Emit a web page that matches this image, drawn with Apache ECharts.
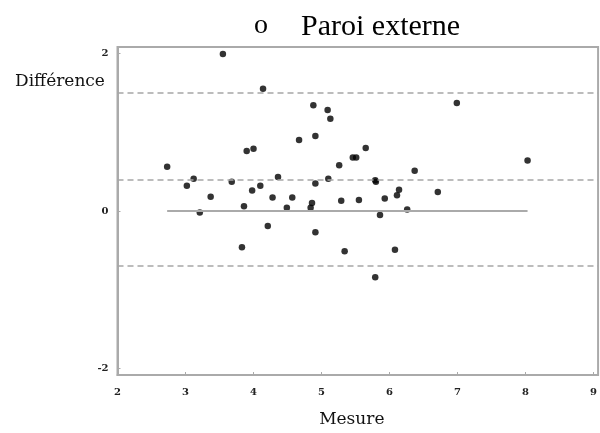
<!DOCTYPE html>
<html>
<head>
<meta charset="utf-8">
<script src="https://cdn.jsdelivr.net/npm/echarts@6/dist/echarts.min.js"></script>
<style>
  html, body { margin: 0; padding: 0; background: #fff; }
  #chart { width: 600px; height: 433px; }
</style>
</head>
<body>
<div id="chart"></div>
<script>
var mesure = [3.55, 4.14, 4.88, 5.09, 5.13, 4.91, 4.67, 3.90, 4.00, 2.73,
  5.26, 3.02, 3.12, 3.68, 4.36, 4.10, 3.98, 4.91, 5.10, 3.37,
  4.28, 4.57, 5.29, 3.86, 4.49, 4.86, 4.84, 3.21, 4.21, 4.91,
  3.83, 5.34, 5.65, 5.46, 5.51, 6.37, 6.99, 8.03, 5.80, 5.79,
  6.71, 6.14, 6.11, 5.55, 5.93, 6.26, 5.86, 6.08, 5.79];
var difference = [1.99, 1.55, 1.34, 1.28, 1.17, 0.95, 0.90, 0.76, 0.79, 0.56,
  0.58, 0.32, 0.41, 0.37, 0.43, 0.32, 0.26, 0.35, 0.41, 0.18,
  0.17, 0.17, 0.13, 0.06, 0.04, 0.10, 0.04, -0.02, -0.19, -0.27,
  -0.46, -0.51, 0.80, 0.68, 0.68, 0.51, 1.37, 0.64, 0.37, 0.39,
  0.24, 0.27, 0.20, 0.14, 0.16, 0.02, -0.05, -0.49, -0.84];
// limite haute, moyenne, limite basse
var limites = [1.5, 0.4, -0.7];
var xTicks = [2, 3, 4, 5, 6, 7, 8, 9];
var yTicks = [-2, 0, 2];

var points = [];
for (var i = 0; i < mesure.length; i++) {
  points.push([mesure[i], difference[i]]);
}
var xMin = Math.min.apply(null, mesure);
var xMax = Math.max.apply(null, mesure);

var dashed = { color: '#a6a6a6', type: [6, 4], width: 1.5 };
var lines = limites.map(function (v) {
  return { yAxis: v, lineStyle: dashed };
});
lines.push([
  { coord: [xMin, 0], lineStyle: { color: '#aaa', type: 'solid', width: 2 } },
  { coord: [xMax, 0] }
]);

var labelFont = { fontFamily: 'DejaVu Serif', fontWeight: 'bold', fontSize: 10, color: '#222' };

var myChart = echarts.init(document.getElementById('chart'));
var option = {
  animation: false,
  backgroundColor: '#fff',
  title: [
    { text: 'o', left: 249, top: 7, textStyle: { fontFamily: 'Liberation Serif', fontWeight: 'normal', fontSize: 28, color: '#000' } },
    { text: 'Paroi externe', left: 296, top: 7, textStyle: { fontFamily: 'Liberation Serif', fontWeight: 'normal', fontSize: 30, color: '#000' } },
    { text: 'Différence', left: 10, top: 68, textStyle: { fontFamily: 'DejaVu Serif', fontWeight: 'normal', fontSize: 17, color: '#111' } }
  ],
  grid: {
    left: 117.5, top: 47, right: -3, bottom: 57,
    show: true, borderColor: '#aaa', borderWidth: 2
  },
  xAxis: {
    type: 'value',
    min: 2, max: 9.067,
    name: 'Mesure',
    nameLocation: 'middle',
    nameGap: 36,
    nameTextStyle: { fontFamily: 'DejaVu Serif', fontSize: 17, color: '#111', padding: [0, 12, 0, 0] },
    axisLine: { onZero: false, lineStyle: { color: '#aaa', width: 2 } },
    axisTick: { show: true, inside: true, length: 3, customValues: xTicks, lineStyle: { color: '#aaa' } },
    axisLabel: Object.assign({ customValues: xTicks, margin: 12 }, labelFont),
    splitLine: { show: false }
  },
  yAxis: {
    type: 'value',
    min: -2.08, max: 2.08,
    axisLine: { show: true, onZero: false, lineStyle: { color: '#aaa', width: 2 } },
    axisTick: { show: true, inside: true, length: 3, customValues: yTicks, lineStyle: { color: '#aaa' } },
    axisLabel: Object.assign({ customValues: yTicks, margin: 9 }, labelFont),
    splitLine: { show: false }
  },
  series: [
    {
      type: 'scatter',
      data: points,
      symbolSize: 6.5,
      itemStyle: { color: '#000' },
      z: 3,
      markLine: {
        silent: true,
        symbol: 'none',
        label: { show: false },
        data: lines
      }
    }
  ]
};
myChart.setOption(option);
</script>
</body>
</html>
